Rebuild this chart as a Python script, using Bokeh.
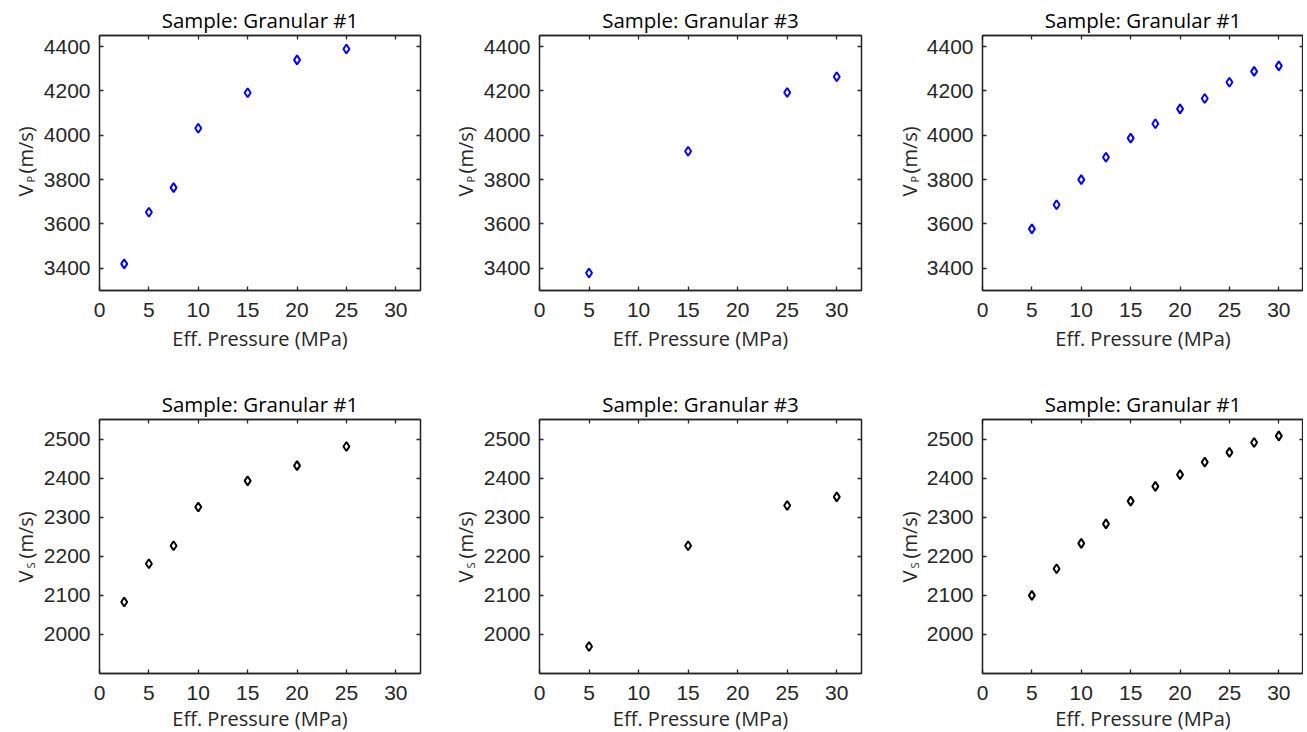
import numpy as np
from bokeh.plotting import figure
from bokeh.models import LinearAxis, FixedTicker, Range1d
from bokeh.core.properties import value
from bokeh.layouts import column, row
from bokeh.embed import file_html
from bokeh.resources import INLINE

# ---------------- data ----------------
titles_top = ["Sample: Granular #1", "Sample: Granular #3", "Sample: Granular #1"]
titles_bottom = ["Sample: Granular #1", "Sample: Granular #3", "Sample: Granular #1"]
x_label = "Eff. Pressure (MPa)"
y_label_parts_top = ["V", "P", "(m/s)"]
y_label_parts_bottom = ["V", "S", "(m/s)"]

g1a_pressure = [2.5, 5, 7.5, 10, 15, 20, 25]
g1a_vp = [3420, 3653, 3764, 4032, 4192, 4340, 4389]
g1a_vs = [2083, 2181, 2227, 2326, 2393, 2432, 2481]

g3_pressure = [5, 15, 25, 30]
g3_vp = [3379, 3928, 4193, 4264]
g3_vs = [1969, 2227, 2330, 2352]

g1b_pressure = [5, 7.5, 10, 12.5, 15, 17.5, 20, 22.5, 25, 27.5, 30]
g1b_vp = [3578, 3687, 3800, 3901, 3987, 4052, 4119, 4166, 4239, 4288, 4313]
g1b_vs = [2100, 2168, 2233, 2283, 2341, 2379, 2409, 2441, 2466, 2491, 2508]

x_ticks = [0, 5, 10, 15, 20, 25, 30]
vp_ticks = [3400, 3600, 3800, 4000, 4200, 4400]
vs_ticks = [2000, 2100, 2200, 2300, 2400, 2500]
x_limits = (0, 32.5)
vp_limits = (3300, 4450)
vs_limits = (1900, 2550)

AX = "#262626"
LABEL_FONT = "Open Sans"
TICK_FONT = "Liberation Sans"

ROWS = [dict(top=35, fh=255, bottom=75), dict(top=54, fh=254, bottom=51)]
FRAME_W = [321, 322, 321]
RIGHT_B = [16, 14, 0]
LEFT_B = 60
LAB_W = [39, 43, 47]          # width of the strip that holds the y-axis title
LAB_BASE = [25, 29, 34]       # baseline (x) of the rotated y title inside the strip
LAB_Y = [(94, 108, 117), (91, 105, 115)]  # along-axis start of V, subscript, (m/s)


def label_strip(parts, col, rowi):
    r = ROWS[rowi]
    w = LAB_W[col]
    s = figure(frame_width=w, frame_height=r["fh"],
               x_range=Range1d(0, w), y_range=Range1d(0, r["fh"]),
               output_backend="svg", toolbar_location=None,
               x_axis_location=None, y_axis_location=None,
               min_border_left=0, min_border_right=0,
               min_border_top=r["top"], min_border_bottom=r["bottom"],
               background_fill_color="white", border_fill_color="white")
    s.outline_line_color = None
    s.grid.visible = False
    b = LAB_BASE[col]
    yv, ys, yp = LAB_Y[rowi]
    s.text(x=[b, b], y=[yv, yp], text=[parts[0], parts[2]], angle=np.pi / 2,
           text_font=value(LABEL_FONT), text_font_size=value("20px"),
           text_color=AX, text_align="left", text_baseline="alphabetic")
    s.text(x=[b + 5], y=[ys], text=[parts[1]], angle=np.pi / 2,
           text_font=value(LABEL_FONT), text_font_size=value("11px"),
           text_color=AX, text_align="left", text_baseline="alphabetic")
    return s


def make(xs, ys, title, yticks, ylim, color, col, rowi):
    r = ROWS[rowi]
    p = figure(frame_width=FRAME_W[col], frame_height=r["fh"],
               x_range=Range1d(*x_limits), y_range=Range1d(*ylim),
               output_backend="svg", toolbar_location=None, title=title,
               min_border_left=LEFT_B, min_border_right=RIGHT_B[col],
               min_border_top=r["top"], min_border_bottom=r["bottom"],
               background_fill_color="white", border_fill_color="white")
    p.add_layout(LinearAxis(), "above")
    p.add_layout(LinearAxis(), "right")
    p.grid.visible = False
    p.outline_line_color = AX
    p.outline_line_width = 1.3

    for ax in p.xaxis:
        ax.ticker = FixedTicker(ticks=x_ticks)
    for ax in p.yaxis:
        ax.ticker = FixedTicker(ticks=yticks)
    for ax in p.axis:
        ax.major_tick_in = 4
        ax.major_tick_out = 0
        ax.minor_tick_line_color = None
        ax.axis_line_color = AX
        ax.axis_line_width = 1.3
        ax.major_tick_line_color = AX
        ax.major_tick_line_width = 1.3
        ax.major_label_text_font = TICK_FONT
        ax.major_label_text_font_size = "21px"
        ax.major_label_text_color = AX
    for ax in p.above + p.right:
        if isinstance(ax, LinearAxis):
            ax.major_label_text_font_size = "0px"
            ax.major_label_text_color = None
            ax.major_label_standoff = 0
    p.below[0].major_label_standoff = 12
    p.left[0].major_label_standoff = 9
    p.below[0].axis_label = x_label
    p.below[0].axis_label_text_font = LABEL_FONT
    p.below[0].axis_label_text_font_size = "20px"
    p.below[0].axis_label_text_font_style = "normal"
    p.below[0].axis_label_text_color = AX
    p.below[0].axis_label_standoff = 5 if rowi == 0 else 2

    p.title.text_font = LABEL_FONT
    p.title.text_font_size = "20.5px"
    p.title.text_font_style = "normal"
    p.title.text_color = "black"
    p.title.align = "center"
    p.title.standoff = 4

    p.scatter(xs, ys, marker="diamond", size=9, fill_color=None,
              line_color=color, line_width=2)
    return p


top_row = row(
    label_strip(y_label_parts_top, 0, 0),
    make(g1a_pressure, g1a_vp, titles_top[0], vp_ticks, vp_limits, "#0000ff", 0, 0),
    label_strip(y_label_parts_top, 1, 0),
    make(g3_pressure, g3_vp, titles_top[1], vp_ticks, vp_limits, "#0000ff", 1, 0),
    label_strip(y_label_parts_top, 2, 0),
    make(g1b_pressure, g1b_vp, titles_top[2], vp_ticks, vp_limits, "#0000ff", 2, 0),
)
bottom_row = row(
    label_strip(y_label_parts_bottom, 0, 1),
    make(g1a_pressure, g1a_vs, titles_bottom[0], vs_ticks, vs_limits, "#000000", 0, 1),
    label_strip(y_label_parts_bottom, 1, 1),
    make(g3_pressure, g3_vs, titles_bottom[1], vs_ticks, vs_limits, "#000000", 1, 1),
    label_strip(y_label_parts_bottom, 2, 1),
    make(g1b_pressure, g1b_vs, titles_bottom[2], vs_ticks, vs_limits, "#000000", 2, 1),
)
layout = column(top_row, bottom_row)

open("out.html", "w").write(file_html(layout, INLINE))
